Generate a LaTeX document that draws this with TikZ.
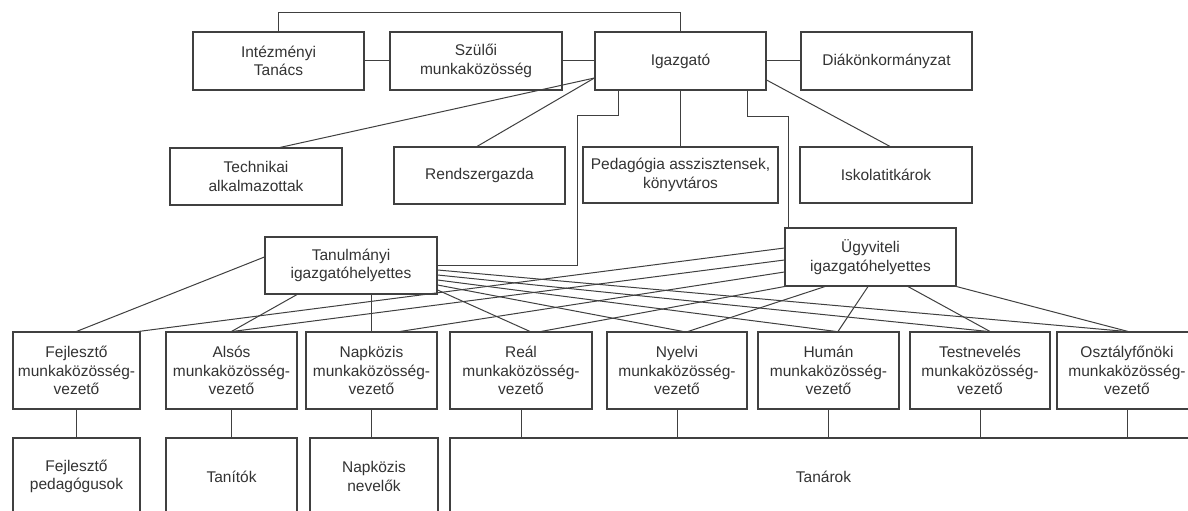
\documentclass[tikz,border=0pt]{standalone}
\usepackage{fontspec}
\setmainfont{Liberation Sans}
\usetikzlibrary{calc}
\begin{document}
\begin{tikzpicture}[x=1pt,y=-1pt,
  box/.style={draw=black!75, line width=1.1pt, fill=white, inner sep=0pt, align=center,
    font=\fontsize{15.5}{18.5}\selectfont, text=black!80},
  conn/.style={draw=black!75, line width=1pt}]
\fill[white] (0,0) rectangle (1188,511);
\useasboundingbox (0,0) rectangle (1188,511);
% top row
\node[box, minimum width=171pt, minimum height=58pt] (intez) at (278.5,61) {Intézményi\\Tanács};
\node[box, minimum width=172pt, minimum height=58pt] (szuloi) at (476,61) {Szülői\\munkaközösség};
\node[box, minimum width=171pt, minimum height=58pt] (igaz) at (680.5,61) {Igazgató};
\node[box, minimum width=171pt, minimum height=58pt] (diak) at (886.5,61) {Diákönkormányzat};
% second row
\node[box, minimum width=172pt, minimum height=57pt] (tech) at (256,176.5) {Technikai\\alkalmazottak};
\node[box, minimum width=171pt, minimum height=57pt] (rendsz) at (479.5,175.5) {Rendszergazda};
\node[box, minimum width=195pt, minimum height=56pt] (ped) at (680.5,175) {Pedagógia asszisztensek,\\könyvtáros};
\node[box, minimum width=172pt, minimum height=56pt] (iskola) at (886,175) {Iskolatitkárok};
% deputies
\node[box, minimum width=172pt, minimum height=57pt] (tanul) at (351,265.5) {Tanulmányi\\igazgatóhelyettes};
\node[box, minimum width=171pt, minimum height=58pt] (ugyv) at (870.5,257) {Ügyviteli\\igazgatóhelyettes};
% heads of teams
\node[box, minimum width=127pt, minimum height=77pt] (fejl) at (76.5,370.5) {Fejlesztő\\munkaközösség-\\vezető};
\node[box, minimum width=131pt, minimum height=77pt] (also) at (231.5,370.5) {Alsós\\munkaközösség-\\vezető};
\node[box, minimum width=131pt, minimum height=77pt] (napk) at (371.5,370.5) {Napközis\\munkaközösség-\\vezető};
\node[box, minimum width=142pt, minimum height=77pt] (real) at (521,370.5) {Reál\\munkaközösség-\\vezető};
\node[box, minimum width=140pt, minimum height=77pt] (nyelv) at (677,370.5) {Nyelvi\\munkaközösség-\\vezető};
\node[box, minimum width=141pt, minimum height=77pt] (human) at (828.5,370.5) {Humán\\munkaközösség-\\vezető};
\node[box, minimum width=140pt, minimum height=77pt] (test) at (980,370.5) {Testnevelés\\munkaközösség-\\vezető};
\node[box, minimum width=140pt, minimum height=77pt] (oszt) at (1127,370.5) {Osztályfőnöki\\munkaközösség-\\vezető};
% staff
\node[box, minimum width=127pt, minimum height=77pt] (fejlped) at (76.5,476.5) {Fejlesztő\\pedagógusok};
\node[box, minimum width=131pt, minimum height=77pt] (tanitok) at (231.5,476.5) {Tanítók};
\node[box, minimum width=128pt, minimum height=77pt] (napkn) at (374,476.5) {Napközis\\nevelők};
\node[box, minimum width=747pt, minimum height=77pt] (tanarok) at (823.5,476.5) {Tanárok};
% top connectors
\draw[conn] (intez.north) -- ++(0,-19) -| (igaz.north);
\draw[conn] (intez.east) -- (szuloi.west);
\draw[conn] (szuloi.east) -- (igaz.west);
\draw[conn] (igaz.east) -- (diak.west);
% director to second row
\draw[conn] ([yshift=-17pt]igaz.west) -- ([xshift=24pt]tech.north);
\draw[conn] ([yshift=-17pt]igaz.west) -- ([xshift=-2.5pt]rendsz.north);
\draw[conn] (igaz.south) -- (ped.north);
\draw[conn] ([yshift=-19pt]igaz.east) -- ([xshift=4pt]iskola.north);
% director to deputies
\draw[conn] ([xshift=-62.5pt]igaz.south) -- ++(0,25) -- ++(-41,0) |- (tanul.east);
\draw[conn] ([xshift=66.5pt]igaz.south) -- ++(0,26) -| ([xshift=4pt]ugyv.north west);
% Tanulmányi to heads
\draw[conn] ([yshift=8.5pt]tanul.west) -- (fejl.north);
\draw[conn] ([xshift=-54pt]tanul.south) -- (also.north);
\draw[conn] (napk.north) -- (napk.north |- tanul.south);
\draw[conn] ([yshift=-24.5pt]tanul.east) -- ([xshift=9pt]real.north);
\draw[conn] ([yshift=-19.5pt]tanul.east) -- ([xshift=6pt]nyelv.north);
\draw[conn] ([yshift=-14.5pt]tanul.east) -- ([xshift=7.5pt]human.north);
\draw[conn] ([yshift=-9.5pt]tanul.east) -- ([xshift=8pt]test.north);
\draw[conn] ([yshift=-4.5pt]tanul.east) -- ([xshift=-1pt]oszt.north);
% Ügyviteli to heads
\draw[conn] ([yshift=9pt]ugyv.west) -- ([xshift=-2pt]fejl.north east);
\draw[conn] ([yshift=-3pt]ugyv.west) -- ([xshift=1pt]also.north);
\draw[conn] ([yshift=-15pt]ugyv.west) -- ([xshift=28.5pt]napk.north);
\draw[conn] (ugyv.south west) -- ([xshift=20pt]real.north);
\draw[conn] ([xshift=-45.5pt]ugyv.south) -- ([xshift=11pt]nyelv.north);
\draw[conn] ([xshift=-2.5pt]ugyv.south) -- ([xshift=9.5pt]human.north);
\draw[conn] ([xshift=37.5pt]ugyv.south) -- ([xshift=10pt]test.north);
\draw[conn] (ugyv.south east) -- ([xshift=1pt]oszt.north);
% heads to staff
\draw[conn] (fejl.south) -- (fejlped.north);
\draw[conn] (also.south) -- (tanitok.north);
\draw[conn] (napk.south) -- (napk.south |- napkn.north);
\draw[conn] (real.south) -- (real.south |- tanarok.north);
\draw[conn] (nyelv.south) -- (nyelv.south |- tanarok.north);
\draw[conn] (human.south) -- (human.south |- tanarok.north);
\draw[conn] (test.south) -- (test.south |- tanarok.north);
\draw[conn] (oszt.south) -- (oszt.south |- tanarok.north);
\end{tikzpicture}
\end{document}
